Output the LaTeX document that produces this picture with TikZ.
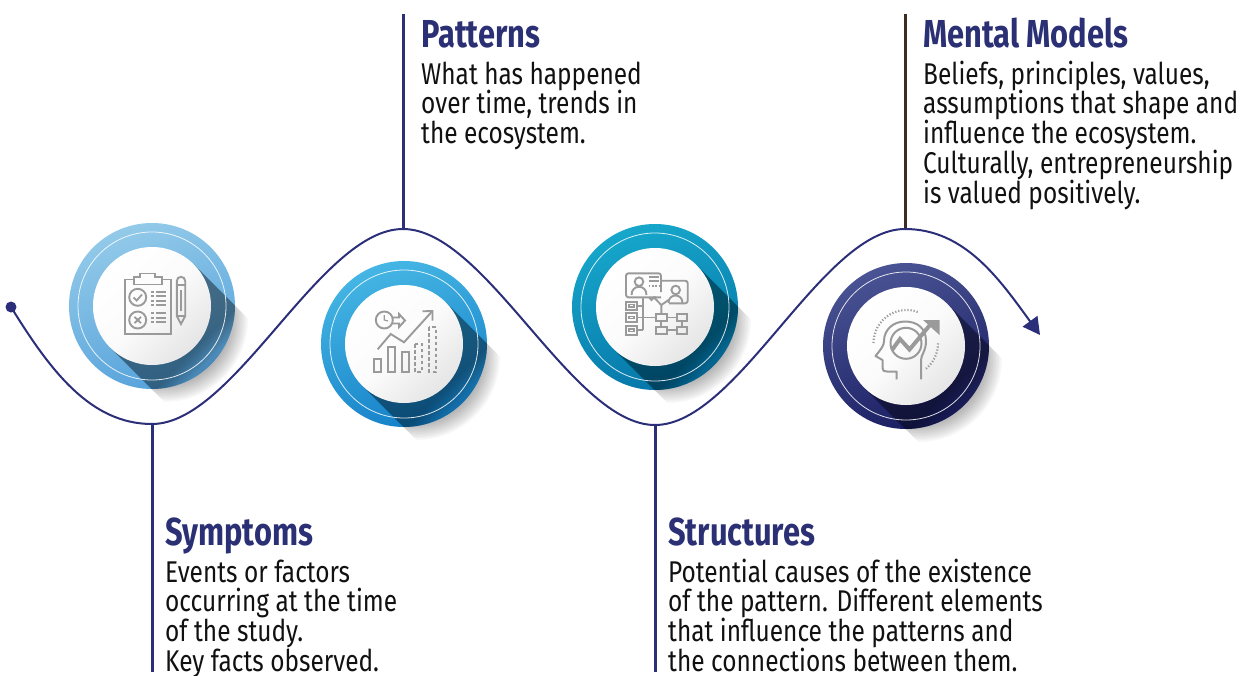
\documentclass[tikz,border=0pt]{standalone}
\usepackage{fontspec}
\usetikzlibrary{arrows.meta}
\newfontfamily\bodyfont[FakeStretch=0.815]{Fira Sans}
\newfontfamily\headfont[FakeStretch=0.79]{Fira Sans}
\lineskiplimit=-100pt
\definecolor{navy}{HTML}{2B2E78}
\definecolor{headc}{HTML}{2B3075}
\definecolor{brownline}{HTML}{3F2C20}
\definecolor{icong}{HTML}{9A9A9A}
\definecolor{bodyc}{HTML}{111111}
\definecolor{topa}{HTML}{93CAE9}\definecolor{bota}{HTML}{55A2DB}
\definecolor{topb}{HTML}{45B6E4}\definecolor{botb}{HTML}{1580C8}
\definecolor{topc}{HTML}{17A7CB}\definecolor{botc}{HTML}{0575A8}
\definecolor{topd}{HTML}{4A5494}\definecolor{botd}{HTML}{1A1E62}
\tikzset{
  x=1pt,y=-1pt,
  conn/.style={draw=navy,line width=2pt},
  leader/.style={draw=navy,line width=3pt},
  headtext/.style={font=\headfont\bfseries\fontsize{39}{40}\selectfont,text=headc,inner sep=0pt,anchor=base west},
  bodytext/.style={font=\bodyfont\fontsize{30}{29.75}\selectfont,text=bodyc,inner sep=0pt,anchor=north west,align=left},
  ic/.style={draw=icong,line width=1.9pt,line join=miter},
  icf/.style={fill=icong,draw=none},
  whitedisc/.style={circle,minimum size=118pt,inner sep=0pt,left color=white,right color=white!80!gray,middle color=white!97!gray,shading angle=45},
  ringdisc/.style={circle,minimum size=166pt,inner sep=0pt},
}
\newcommand{\firstline}{\rule{0pt}{24pt}}
\newcommand{\badge}[3]{%
 \begin{scope}[shift={(#2,#3)}]
  \begin{scope}
   \clip[rotate=-45] (0,-59) rectangle (150,59);
   \foreach \r in {83,81.5,...,64}{\fill[black,opacity=0.028] (13,13) circle[radius=\r];}
  \end{scope}
  \node[ringdisc,left color=top#1,right color=bot#1,shading angle=20] (ring#1) at (0,0) {};
  \begin{scope}
   \clip (0,0) circle[radius=83];
   \fill[black,opacity=0.16,rotate=-45] (0,-59) rectangle (95,59);
   \foreach \d in {62,64,...,78}{\fill[black,opacity=0.035,rotate=-45] (0,-59) rectangle (\d,59);}
  \end{scope}
  \draw[white,line width=0.8pt,opacity=0.85] (0,0) circle[radius=74];
  \node[whitedisc] (disc#1) at (0,0) {};
 \end{scope}}
\begin{document}
\begin{tikzpicture}
\useasboundingbox (0,0) rectangle (1245,675);
\badge{a}{152}{306}
\badge{b}{404}{344}
\badge{c}{655}{307}
\badge{d}{906}{346}
% named points on the curve
\coordinate (start) at (11,307);
\coordinate (low1) at (152,424);
\coordinate (top1) at (403,229);
\coordinate (low2) at (655,425);
\coordinate (top2) at (905,229);
\coordinate (tip) at (1040,335);
\coordinate (lineS) at (152,672);
\coordinate (lineP) at (403,14);
\coordinate (lineT) at (655,672);
\coordinate (lineM) at (905,14);
% leaders
\draw[leader] (low1) -- (lineS);
\draw[leader] (top1) -- (lineP);
\draw[leader] (low2) -- (lineT);
\draw[draw=brownline,line width=3pt] (top2) -- (lineM);
% wave
\draw[conn,-{Triangle[length=17pt,width=18pt]}] (start)
  .. controls (50,370) and (90,424) .. (low1)
  .. controls (235,424) and (320,229) .. (top1)
  .. controls (486,229) and (572,425) .. (low2)
  .. controls (738,425) and (822,229) .. (top2)
  .. controls (965,229) and (1000,280) .. (tip);
\node[circle,fill=navy,minimum size=11pt,inner sep=0pt] (dot) at (start) {};
% icon 1: clipboard
\draw[ic] (134,279.5) -- (125,279.5) -- (125,334) -- (171,334) -- (171,279.5) -- (162,279.5);
\draw[ic] (134,284.5) -- (134,277) -- (140,277) -- (140,273.5) -- (155,273.5) -- (155,277) -- (162,277) -- (162,284.5) -- cycle;
\draw[ic] (137.7,297.3) circle[radius=8.5];
\draw[ic,line width=1.8pt] (133.5,297.5) -- (136.7,300.5) -- (142,294.5);
\draw[ic] (137.7,320) circle[radius=8.5];
\draw[ic,line width=1.8pt] (134.5,316.8) -- (141,323.2) (141,316.8) -- (134.5,323.2);
\foreach \yy in {292,296.3,300.6,304.9}{\draw[ic] (151,\yy) -- (154,\yy) (156,\yy) -- (166,\yy);}
\foreach \yy in {313.3,317.6,321.9}{\draw[ic] (151,\yy) -- (154,\yy) (156,\yy) -- (166,\yy);}
\draw[ic] (176.8,316) -- (176.8,281) arc[start angle=180,end angle=0,x radius=4.2,y radius=-4.2] -- (185.2,316) -- (181,324) -- cycle;
\draw[ic] (176.8,285) -- (185.2,285) (176.8,316) -- (185.2,316) (181,290) -- (181,311);
% icon 2: chart
\draw[ic] (374,359) rectangle (381,371.7);
\draw[ic] (388,347.3) rectangle (395,371.7);
\draw[ic] (402,351.7) rectangle (409,371.7);
\draw[ic,dash pattern=on 3.5pt off 2.5pt] (415,344) rectangle (422,371.7);
\draw[ic,dash pattern=on 3.5pt off 2.5pt] (429,327.3) rectangle (436,371.7);
\draw[ic] (377.7,349.3) -- (390.7,334) -- (404,342.3) -- (432,311.5);
\draw[ic] (422.5,311.3) -- (432.5,311) -- (432.5,320.5);
\draw[ic] (384.3,320) circle[radius=8.5];
\draw[ic,line width=1.2pt] (384.3,315) -- (384.3,320) -- (388,321);
\draw[ic] (392,317.5) -- (399,317.5) -- (399,314) -- (405,320.5) -- (399,327) -- (399,323.5) -- (392,323.5);
% icon 3: people and chart
\draw[ic,rounded corners=2.5pt] (656,297.3) -- (630,297.3) -- (626,297.3) -- (626,273.3) -- (661,273.3) -- (661,292) ;
\draw[ic] (661,297.3) -- (654,297.3) -- (651.5,300) -- (649,297.3);
\draw[ic] (639,281.7) circle[radius=4.3];
\draw[ic] (631.5,295) .. controls (631.5,284) and (646.5,284) .. (646.5,295);
\draw[ic] (648.5,276.8) -- (659,276.8) (648.5,281) -- (659,281);
\draw[ic,dash pattern=on 1.8pt off 1.6pt] (648.5,286) -- (659,286);
\draw[ic,rounded corners=2.5pt] (661.5,280.7) -- (687.7,280.7) -- (687.7,303.3) -- (669,303.3);
\draw[ic] (675.7,290) circle[radius=4.3];
\draw[ic] (668.5,303) .. controls (668.5,293) and (682.5,293) .. (682.5,303);
\draw[ic] (626,301.7) rectangle (637.3,310) (626,313.3) rectangle (637.3,321.7) (626,325.7) rectangle (637.3,335);
\draw[ic,line width=1.2pt] (629,304.5) rectangle (634,307) (629,316.3) rectangle (634,318.8) (629,329) rectangle (634,331.5);
\draw[ic] (643.3,297.3) -- (643.3,330.3);
\draw[ic] (637.3,306) -- (643.3,306) (637.3,330.3) -- (643.3,330.3) (637.3,317.5) -- (656,317.5);
\draw[ic] (656,314.3) rectangle (666.7,321) (676.7,314.3) rectangle (687.3,321) (656,326.7) rectangle (666.7,334) (676.7,326.7) rectangle (687.3,334);
\draw[ic] (666.7,317.5) -- (676.7,317.5) (661.3,321) -- (661.3,326.7) (681.9,321) -- (681.9,326.7) (666.7,330) -- (676.7,330);
\draw[ic] (661.3,314.3) -- (661.3,305) -- (654,297.5) (661.3,305) -- (668.5,300);
% icon 4: head
\draw[ic,line width=2pt,line join=round] (921,379.3) -- (921,360) .. controls (921,355) and (926,351) .. (926,341)
  .. controls (926,328) and (917,321.5) .. (905,321.5)
  .. controls (893,321.5) and (884,330) .. (884,341)
  .. controls (884,345) and (882,348) .. (875.5,356)
  -- (882.5,360) -- (882.5,368) .. controls (882.5,371) and (884,371.5) .. (887,371.5) -- (896.7,371.5) -- (896.7,379.3);
\draw[ic,line width=2pt] (906,343.3) circle[radius=15.5];
\draw[ic,line width=4pt,line join=miter] (892,350) -- (900,339) -- (909.5,349.5) -- (930,325);
\fill[icf] (923,320) -- (939.5,320) -- (939.5,335) -- cycle;
\draw[ic,line width=2.2pt,dash pattern=on 1.2pt off 1.9pt] (873.5,343) arc[start angle=180,end angle=70,x radius=33,y radius=-33];
\draw[ic,line width=2.2pt,dash pattern=on 1.2pt off 1.9pt] (938,343.3) arc[start angle=0,end angle=-52,x radius=33,y radius=-33];
% text
\node[headtext] (hS) at (165,545) {Symptoms};
\node[bodytext] (tS) at (165,558) {\firstline Events or factors\\occurring at the time\\of the study.\\Key facts observed.};
\node[headtext] (hP) at (421,47) {Patterns};
\node[bodytext] (tP) at (421,60) {\firstline What has happened\\over time, trends in\\the ecosystem.};
\node[headtext] (hT) at (668,545) {Structures};
\node[bodytext] (tT) at (668,558) {\firstline Potential causes of the existence\\of the pattern. Different elements\\that influence the patterns and\\the connections between them.};
\node[headtext] (hM) at (923,47) {Mental Models};
\node[bodytext] (tM) at (923,60) {\firstline Beliefs, principles, values,\\assumptions that shape and\\influence the ecosystem.\\Culturally, entrepreneurship\\is valued positively.};
\end{tikzpicture}
\end{document}
